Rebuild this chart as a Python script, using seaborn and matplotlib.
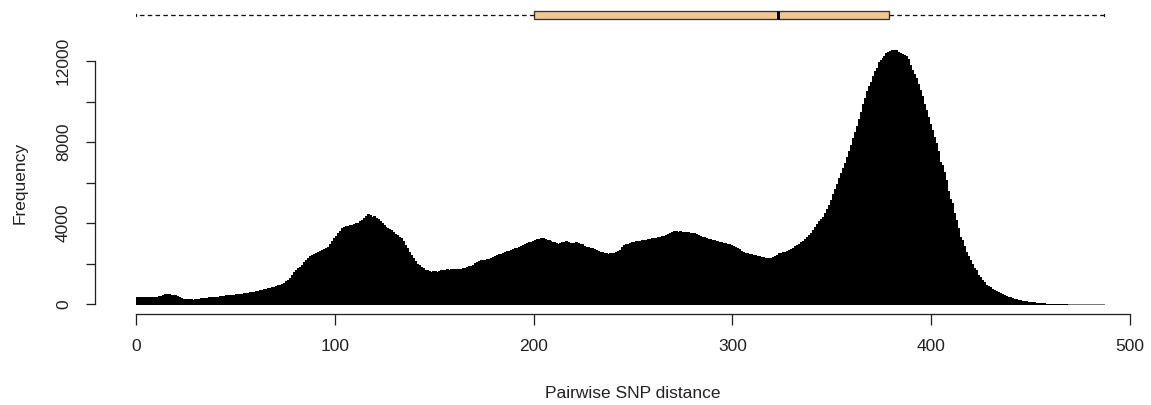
import matplotlib
matplotlib.use("Agg")
import matplotlib.pyplot as plt
import seaborn as sns
import numpy as np
import pandas as pd

# ---- data ----
# histogram: counts per 1-unit bin of pairwise SNP distance, bins [0,1), [1,2), ... [486,487)
counts = [
    330, 335, 328, 332, 330, 334, 331, 329, 333, 336,
    345, 380, 410, 460, 480, 475, 470, 455, 440, 430,
    380, 340, 300, 270, 255, 240, 235, 225, 215, 230,
    250, 270, 290, 300, 320, 315, 330, 340, 350, 360,
    355, 370, 385, 380, 400, 420, 430, 445, 440, 460,
    470, 480, 495, 510, 530, 545, 560, 570, 590, 610,
    630, 650, 670, 700, 720, 745, 775, 800, 830, 850,
    880, 920, 950, 990, 1050, 1130, 1200, 1300, 1450, 1560,
    1680, 1780, 1850, 1950, 2050, 2170, 2250, 2350, 2400, 2470,
    2500, 2560, 2600, 2650, 2700, 2750, 2820, 2950, 3100, 3250,
    3380, 3500, 3620, 3740, 3800, 3840, 3850, 3880, 3900, 3950,
    3990, 4020, 4080, 4150, 4250, 4350, 4430, 4380, 4300, 4330,
    4250, 4180, 4080, 4000, 3900, 3820, 3750, 3700, 3640, 3570,
    3480, 3400, 3320, 3245, 3100, 2920, 2750, 2580, 2400, 2255,
    2120, 2000, 1920, 1840, 1760, 1700, 1660, 1630, 1600, 1610,
    1620, 1600, 1650, 1680, 1670, 1690, 1710, 1700, 1720, 1710,
    1720, 1730, 1740, 1750, 1780, 1790, 1810, 1860, 1900, 1950,
    2020, 2090, 2100, 2150, 2160, 2180, 2200, 2230, 2255, 2300,
    2350, 2400, 2450, 2480, 2520, 2550, 2600, 2630, 2680, 2700,
    2750, 2790, 2830, 2880, 2920, 2960, 3000, 3050, 3080, 3130,
    3180, 3200, 3230, 3250, 3245, 3200, 3150, 3180, 3120, 3080,
    3050, 3000, 2950, 3000, 3050, 3060, 3110, 3080, 3000, 3020,
    3000, 3060, 3030, 2980, 2950, 2880, 2830, 2800, 2780, 2750,
    2700, 2670, 2620, 2580, 2560, 2530, 2500, 2490, 2510, 2500,
    2520, 2550, 2600, 2670, 2800, 2900, 2950, 2980, 3000, 3040,
    3080, 3100, 3120, 3130, 3150, 3160, 3180, 3200, 3220, 3240,
    3260, 3270, 3290, 3320, 3350, 3380, 3420, 3460, 3520, 3560,
    3620, 3600, 3580, 3600, 3560, 3570, 3550, 3540, 3520, 3500,
    3490, 3450, 3400, 3380, 3330, 3290, 3260, 3230, 3200, 3180,
    3160, 3130, 3100, 3080, 3050, 3030, 3000, 2980, 2950, 2900,
    2860, 2800, 2750, 2700, 2640, 2580, 2540, 2500, 2480, 2450,
    2420, 2400, 2380, 2370, 2340, 2300, 2280, 2260, 2250, 2270,
    2300, 2350, 2420, 2500, 2530, 2560, 2580, 2620, 2670, 2720,
    2780, 2850, 2900, 2960, 3050, 3120, 3200, 3300, 3410, 3520,
    3650, 3800, 3950, 4120, 4200, 4310, 4500, 4700, 4900, 5150,
    5420, 5700, 5950, 6200, 6450, 6700, 6950, 7250, 7550, 7850,
    8180, 8500, 8800, 9150, 9500, 9900, 10160, 10500, 10750, 10980,
    11250, 11500, 11640, 11950, 12050, 12150, 12250, 12400, 12450, 12500,
    12540, 12560, 12560, 12450, 12400, 12350, 12300, 12250, 12100, 11800,
    11550, 11350, 11150, 10850, 10570, 10250, 9900, 9580, 9250, 8900,
    8580, 8250, 7930, 7550, 7030, 6850, 6500, 6120, 5600, 5200,
    4970, 4500, 4150, 3750, 3320, 3150, 2850, 2580, 2350, 2150,
    1980, 1800, 1680, 1450, 1330, 1200, 1080, 960, 880, 820,
    760, 700, 650, 600, 550, 500, 450, 410, 370, 330,
    290, 260, 230, 210, 190, 170, 150, 130, 115, 100,
    85, 75, 62, 50, 42, 35, 28, 20, 15, 12,
    10, 8, 6, 5, 4, 3, 3, 2, 2, 1,
    1, 1, 1, 0, 1, 0, 0, 1, 0, 0,
    0, 0, 0, 0, 0, 0, 1,
]
bin_width = 1
x_ticks = [0, 100, 200, 300, 400, 500]
y_ticks = [0, 4000, 8000, 12000]
y_minor_ticks = [2000, 6000, 10000]

# boxplot summary (min, Q1, median, Q3, max)
box_min, box_q1, box_med, box_q3, box_max = 0, 200, 323, 379, 487

x_label = "Pairwise SNP distance"
y_label = "Frequency"

# ---- figure ----
sns.set_theme(style="white")
plt.rcParams["font.family"] = ["Liberation Sans", "DejaVu Sans"]

W, H, DPI = 1151, 405, 100
fig = plt.figure(figsize=(W / DPI, H / DPI), dpi=DPI)
PT = 72.0 / DPI  # points per pixel

x0_px, x1_px = 136, 1130
y0_px, ytop_px = 304, 40
ax = fig.add_axes([x0_px / W, (H - y0_px) / H, (x1_px - x0_px) / W, (y0_px - ytop_px) / H])

n_bins = len(counts)
df = pd.DataFrame({"dist": np.arange(n_bins) * bin_width + bin_width / 2,
                   "n": np.asarray(counts, dtype=float)})
sns.histplot(data=df, x="dist", weights="n", binwidth=bin_width,
             binrange=(0, n_bins * bin_width), ax=ax,
             color="black", edgecolor="#555555", linewidth=0.0, alpha=1.0)
for p in ax.patches:
    p.set_antialiased(False)
    p.set_clip_on(False)
    if p.get_height() <= 1:
        p.set_edgecolor("#777777")
        p.set_linewidth(1.0 * PT)
    else:
        p.set_edgecolor("black")
        p.set_linewidth(0.6 * PT)

ax.set_xlim(0, 500)
ax.set_ylim(0, 12000 * (y0_px - ytop_px) / (y0_px - 61))

for s in ["top", "right"]:
    ax.spines[s].set_visible(False)
ax.spines["left"].set_position(("outward", 41 * PT))
ax.spines["left"].set_bounds(0, 12000)
ax.spines["bottom"].set_position(("outward", 10 * PT))
ax.spines["bottom"].set_bounds(0, 500)
for s in ["left", "bottom"]:
    ax.spines[s].set_color("#222222")
    ax.spines[s].set_linewidth(1.3 * PT)

ax.set_xticks(x_ticks)
ax.set_xticklabels([str(t) for t in x_ticks])
ax.set_yticks(y_ticks)
ax.set_yticklabels([str(t) for t in y_ticks])
ax.set_yticks(y_minor_ticks, minor=True)
ax.tick_params(axis="x", which="both", direction="out", length=11 * PT, width=1.3 * PT,
               color="#222222", pad=14 * PT, labelsize=12.5, labelcolor="#222222", bottom=True)
ax.tick_params(axis="y", which="both", direction="out", length=9 * PT, width=1.3 * PT,
               color="#222222", pad=15 * PT, labelsize=12.5, labelcolor="#222222", left=True)
plt.setp(ax.get_yticklabels(), rotation=90, va="center")

ax.set_xlabel(x_label, fontsize=12.5, color="#222222")
ax.xaxis.set_label_coords(0.5, -(393 - y0_px) / (y0_px - ytop_px))
ax.xaxis.label.set_va("center")
ax.set_ylabel(y_label, fontsize=12.5, color="#222222")
ax.yaxis.set_label_coords(-(x0_px - 20) / (x1_px - x0_px), (y0_px - 183) / (y0_px - ytop_px))
ax.yaxis.label.set_va("center")
ax.grid(False)

# ---- boxplot on top ----
bt, bb = 4, 24
axb = fig.add_axes([x0_px / W, (H - bb) / H, (x1_px - x0_px) / W, (bb - bt) / H])
stats = [{"whislo": box_min, "q1": box_q1, "med": box_med, "q3": box_q3,
          "whishi": box_max, "fliers": [], "label": ""}]
axb.bxp(stats, orientation="horizontal", positions=[0], widths=[0.8], patch_artist=True,
        showfliers=False,
        boxprops=dict(facecolor="#F1C68F", edgecolor="#333333", linewidth=1.3 * PT),
        medianprops=dict(color="black", linewidth=3 * PT, solid_capstyle="butt"),
        whiskerprops=dict(color="#111111", linewidth=1.3 * PT, linestyle=(0, (3.5, 2.5))),
        capprops=dict(color="#111111", linewidth=1.3 * PT),
        capwidths=[0.25])
axb.set_xlim(0, 500)
axb.set_ylim(0.9, -1.1)
axb.axis("off")

fig.savefig("out.png", dpi=DPI)
